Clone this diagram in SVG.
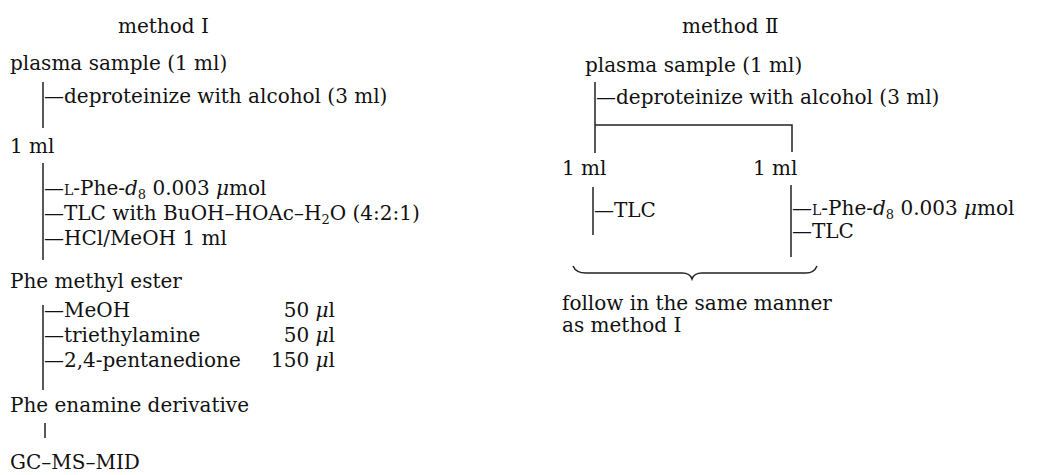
<svg xmlns="http://www.w3.org/2000/svg" width="1037" height="475" viewBox="0 0 1037 475">
<style>
text{font-family:"DejaVu Serif","Liberation Serif",serif;font-size:20px;fill:#111}
.sc{font-size:14px}
.it{font-style:italic}
.sub{font-size:13px}
.ln{stroke:#222;stroke-width:1.5;fill:none}
</style>
<rect width="1037" height="475" fill="#fff"/>
<g id="connectors">
<line class="ln" x1="43" y1="82" x2="43" y2="128"/>
<line class="ln" x1="43" y1="163" x2="43" y2="260"/>
<line class="ln" x1="43" y1="305" x2="43" y2="390"/>
<line class="ln" x1="45" y1="423" x2="45" y2="438"/>
<line class="ln" x1="595" y1="82" x2="595" y2="153"/>
<polyline class="ln" points="595,125 792,125 792,152"/>
<line class="ln" x1="593" y1="187" x2="593" y2="235"/>
<line class="ln" x1="791" y1="185" x2="791" y2="257"/>
<path class="ln" d="M573,266 Q576,273 586,273 L682,273 Q690,273 692,279 Q694,273 702,273 L806,273 Q814,273 817,266"/>
</g>
<g id="title1"><text x="118" y="33">method Ⅰ</text></g>
<g id="title2"><text x="682" y="33">method Ⅱ</text></g>
<g id="m1-plasma"><text x="10" y="70">plasma sample (1 ml)</text></g>
<g id="m1-deprot"><text x="44" y="103">—deproteinize with alcohol (3 ml)</text></g>
<g id="m1-1ml"><text x="10" y="153">1 ml</text></g>
<g id="m1-steps1">
<text x="44" y="195">—<tspan class="sc">L</tspan>-Phe-<tspan class="it">d</tspan><tspan class="sub" dy="4">8</tspan><tspan dy="-4"> 0.003 </tspan><tspan class="it">μ</tspan>mol</text>
<text x="44" y="220">—TLC with BuOH–HOAc–H<tspan class="sub" dy="4">2</tspan><tspan dy="-4">O (4:2:1)</tspan></text>
<text x="44" y="245">—HCl/MeOH 1 ml</text>
</g>
<g id="m1-ester"><text x="10" y="288">Phe methyl ester</text></g>
<g id="m1-steps2">
<text x="44" y="317">—MeOH</text>
<text x="335" y="317" text-anchor="end">50 <tspan class="it">μ</tspan>l</text>
<text x="44" y="342">—triethylamine</text>
<text x="335" y="342" text-anchor="end">50 <tspan class="it">μ</tspan>l</text>
<text x="44" y="367">—2,4-pentanedione</text>
<text x="335" y="367" text-anchor="end">150 <tspan class="it">μ</tspan>l</text>
</g>
<g id="m1-enamine"><text x="10" y="412">Phe enamine derivative</text></g>
<g id="m1-gcms"><text x="10" y="469">GC–MS–MID</text></g>
<g id="m2-plasma"><text x="585" y="72">plasma sample (1 ml)</text></g>
<g id="m2-deprot"><text x="596" y="104">—deproteinize with alcohol (3 ml)</text></g>
<g id="m2-1ml-a"><text x="562" y="175">1 ml</text></g>
<g id="m2-1ml-b"><text x="753" y="175">1 ml</text></g>
<g id="m2-tlc-a"><text x="594" y="217">—TLC</text></g>
<g id="m2-tlc-b">
<text x="792" y="215">—<tspan class="sc">L</tspan>-Phe-<tspan class="it">d</tspan><tspan class="sub" dy="4">8</tspan><tspan dy="-4"> 0.003 </tspan><tspan class="it">μ</tspan>mol</text>
<text x="792" y="238">—TLC</text>
</g>
<g id="m2-follow">
<text x="562" y="310">follow in the same manner</text>
<text x="562" y="332">as method I</text>
</g>
</svg>
